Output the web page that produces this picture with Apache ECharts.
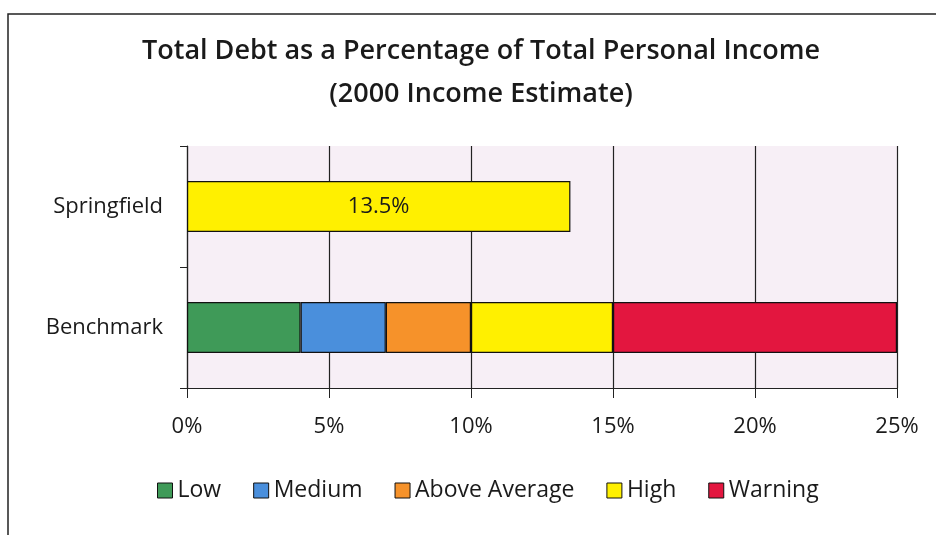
<!DOCTYPE html>
<html>
<head>
<meta charset="utf-8">
<script src="https://cdn.jsdelivr.net/npm/echarts@6/dist/echarts.min.js"></script>
<style>
  html, body { margin: 0; padding: 0; background: #ffffff; }
  #chart { width: 936px; height: 535px; }
</style>
</head>
<body>
<div id="chart"></div>
<script>
// Categories on the vertical axis (top to bottom)
const categories = ['Springfield', 'Benchmark'];

// Springfield's own ratio (%)
const springfieldValue = 13.5;

// Benchmark bands, each a width in percentage points, stacked left to right
const bandNames  = ['Low', 'Medium', 'Above Average', 'High', 'Warning'];
const bandWidths = [4, 3, 3, 5, 10];
const bandColors = ['#3f9a58', '#4a8fdc', '#f6922a', '#fff000', '#e3163f'];

// Horizontal axis ticks (%)
const xTicks = [0, 5, 10, 15, 20, 25];

const font = '"Open Sans", "Noto Sans", sans-serif';

const series = [{
  name: 'Springfield',
  type: 'bar',
  stack: 'total',
  barWidth: '42%',
  data: [springfieldValue, null],
  itemStyle: { color: bandColors[3], borderColor: '#111', borderWidth: 1.2 },
  label: {
    show: true,
    position: 'inside',
    formatter: p => p.value + '%',
    color: '#1a1a1a',
    fontFamily: font,
    fontSize: 22
  }
}];

bandNames.forEach((name, i) => {
  series.push({
    name: name,
    type: 'bar',
    stack: 'total',
    barWidth: '42%',
    data: [null, bandWidths[i]],
    itemStyle: { color: bandColors[i], borderColor: '#111', borderWidth: 1.2 }
  });
});

const chart = echarts.init(document.getElementById('chart'));
chart.setOption({
  animation: false,
  backgroundColor: '#ffffff',
  graphic: [{
    type: 'rect',
    shape: { x: 8, y: 14, width: 960, height: 560 },
    style: { fill: 'none', stroke: '#222', lineWidth: 1.5 },
    silent: true
  }],
  title: {
    text: 'Total Debt as a Percentage of Total Personal Income\n(2000 Income Estimate)',
    left: 476,
    top: 25,
    textAlign: 'center',
    textStyle: {
      fontFamily: font,
      fontWeight: 600,
      fontSize: 27,
      lineHeight: 43,
      color: '#1a1a1a'
    }
  },
  legend: {
    data: bandNames,
    bottom: 28,
    left: 152,
    itemWidth: 15,
    itemHeight: 15,
    itemGap: 32,
    icon: 'rect',
    textStyle: { fontFamily: font, fontSize: 23, color: '#1a1a1a' },
    itemStyle: { borderColor: '#111', borderWidth: 1 }
  },
  grid: {
    left: 187,
    right: 39,
    top: 146,
    bottom: 147,
    show: true,
    backgroundColor: '#f7eff6',
    borderWidth: 0
  },
  xAxis: {
    type: 'value',
    min: 0,
    max: 25,
    interval: 5,
    axisLine: { show: true, lineStyle: { color: '#222', width: 1.2 } },
    axisTick: { show: true, length: 10, lineStyle: { color: '#222' } },
    axisLabel: {
      formatter: v => v + '%',
      margin: 28,
      fontFamily: font,
      fontSize: 22,
      color: '#1a1a1a'
    },
    splitLine: { show: true, lineStyle: { color: '#222', width: 1.2 } }
  },
  yAxis: {
    type: 'category',
    data: categories,
    inverse: true,
    axisLine: { show: true, lineStyle: { color: '#222', width: 1.2 } },
    axisTick: { show: true, length: 7, lineStyle: { color: '#222' } },
    axisLabel: {
      margin: 24,
      fontFamily: font,
      fontSize: 22,
      color: '#1a1a1a'
    }
  },
  series: series
});
</script>
</body>
</html>
